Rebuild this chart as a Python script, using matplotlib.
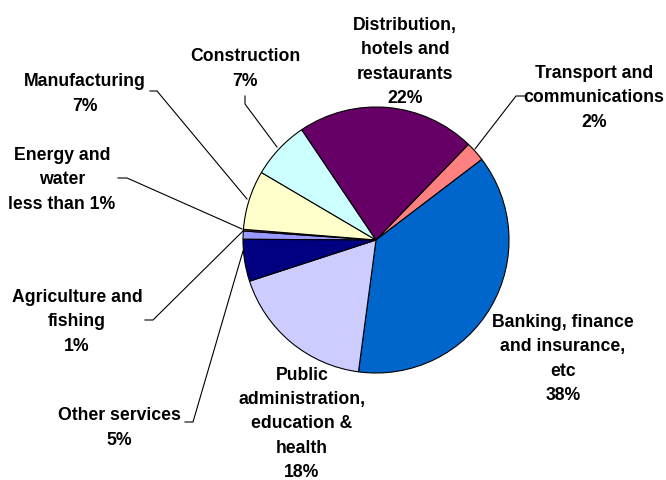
import matplotlib.pyplot as plt

# Dataset (Excel order, drawn clockwise)
sectors = ["Agriculture and fishing", "Energy and water", "Manufacturing", "Construction",
           "Distribution, hotels and restaurants", "Transport and communications",
           "Banking, finance and insurance, etc", "Public administration, education & health",
           "Other services"]
shares = [1.0, 0.2, 7.2, 7.1, 21.7, 2.4, 37.5, 17.9, 5.1]
colors = ["#9999FF", "#993366", "#FFFFCC", "#CCFFFF", "#660066",
          "#FF8080", "#0066CC", "#CCCCFF", "#000080"]
labels = ["Agriculture and\nfishing\n1%",
          "Energy and\nwater\nless than 1%",
          "Manufacturing\n7%",
          "Construction\n7%",
          "Distribution,\nhotels and\nrestaurants\n22%",
          "Transport and\ncommunications\n2%",
          "Banking, finance\nand insurance,\netc\n38%",
          "Public\nadministration,\neducation &\nhealth\n18%",
          "Other services\n5%"]

W, H = 666, 481
fig = plt.figure(figsize=(W / 100, H / 100), dpi=100, facecolor='white')
ax = fig.add_axes([0, 0, 1, 1])

ax.pie(shares, colors=colors, startangle=179.7, counterclock=False,
       center=(376, H - 241), radius=133, frame=True,
       wedgeprops=dict(edgecolor='black', linewidth=0.8))
ax.set_xlim(0, W)
ax.set_ylim(0, H)
ax.axis('off')

# label positions (image pixel coords: x, y-centre of block)
label_pos = [(77, 322), (62, 180), (85, 94), (245, 69), (405, 62),
             (594, 98), (563, 359), (302, 424), (119, 428)]
# leader lines for the outside labels
leaders = {
    0: [(145, 321), (153, 321), (243, 232)],
    1: [(118, 179), (127, 179), (242, 230)],
    2: [(150, 92), (157, 92), (247, 200)],
    3: [(245, 97), (245, 105), (277, 148)],
    5: [(525, 97), (516, 97), (475, 150)],
    8: [(185, 423), (193, 423), (243, 252)],
}

for i, txt in enumerate(labels):
    x, y = label_pos[i]
    ax.text(x, H - y, txt, ha='center', va='center', multialignment='center',
            fontsize=12.7, fontweight='bold', family='Liberation Sans',
            linespacing=1.57, color='black')

for i, pts in leaders.items():
    xs = [p[0] for p in pts]
    ys = [H - p[1] for p in pts]
    ax.plot(xs, ys, color='black', linewidth=0.8)

plt.savefig('out.png', dpi=100, facecolor='white')
